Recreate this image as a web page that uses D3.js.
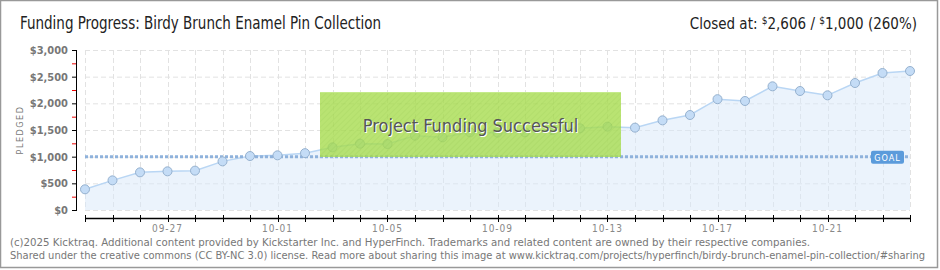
<!DOCTYPE html>
<html>
<head>
<meta charset="utf-8">
<script src="https://cdn.jsdelivr.net/npm/d3@7/dist/d3.min.js"></script>
<style>
  body { margin: 0; background: #fff; }
  svg { display: block; }
</style>
</head>
<body>
<div id="chart"></div>
<script>
// daily pledged totals, 09-24 .. 10-24
var dates = ["2025-09-24","2025-09-25","2025-09-26","2025-09-27","2025-09-28","2025-09-29","2025-09-30",
  "2025-10-01","2025-10-02","2025-10-03","2025-10-04","2025-10-05","2025-10-06","2025-10-07","2025-10-08",
  "2025-10-09","2025-10-10","2025-10-11","2025-10-12","2025-10-13","2025-10-14","2025-10-15","2025-10-16",
  "2025-10-17","2025-10-18","2025-10-19","2025-10-20","2025-10-21","2025-10-22","2025-10-23","2025-10-24"];
var pledged = [388, 556, 706, 725, 738, 912, 1012, 1025, 1066, 1175, 1244, 1237, 1394, 1363, 1456,
  1450, 1456, 1500, 1531, 1563, 1544, 1681, 1781, 2078, 2044, 2319, 2231, 2150, 2381, 2569, 2606];
var goal = 1000;
var yTicks = [0, 500, 1000, 1500, 2000, 2500, 3000];
var xLabelDates = ["2025-09-27","2025-10-01","2025-10-05","2025-10-09","2025-10-13","2025-10-17","2025-10-21"];

var titleText = "Funding Progress: Birdy Brunch Enamel Pin Collection";
var footer1 = "(c)2025 Kicktraq. Additional content provided by Kickstarter Inc. and HyperFinch. Trademarks and related content are owned by their respective companies.";
var footer2 = "Shared under the creative commons (CC BY-NC 3.0) license. Read more about sharing this image at www.kicktraq.com/projects/hyperfinch/birdy-brunch-enamel-pin-collection/#sharing";

var width = 940, height = 270;
var fontFamily = "'DejaVu Sans Condensed', 'DejaVu Sans', sans-serif";
var labelColor = "#777";

var parse = d3.timeParse("%Y-%m-%d");
var data = dates.map(function (d, i) {
  return { date: parse(d), value: pledged[i] };
});

var svg = d3.select("#chart").append("svg")
  .attr("width", width)
  .attr("height", height);

var defs = svg.append("defs");
var stripes = defs.append("pattern")
  .attr("id", "stripes")
  .attr("width", 4).attr("height", 4)
  .attr("patternUnits", "userSpaceOnUse")
  .attr("patternTransform", "rotate(45)");
stripes.append("rect").attr("width", 4).attr("height", 4).attr("fill", "#a7dc4f");
stripes.append("rect").attr("width", 1).attr("height", 4).attr("fill", "#9fd547");

// outer frame
svg.append("rect")
  .attr("x", 0.5).attr("y", 0.5)
  .attr("width", 937).attr("height", 267)
  .attr("fill", "none")
  .attr("stroke", "#999")
  .attr("stroke-width", 1.5);

var x = d3.scaleTime()
  .domain([data[0].date, data[data.length - 1].date])
  .range([85, 910]);

var y = d3.scaleLinear()
  .domain([0, 3000])
  .range([210, 50]);

// grid
var g = svg.append("g");
g.selectAll("line.hgrid")
  .data(yTicks)
  .enter().append("line")
  .attr("class", "hgrid")
  .attr("x1", 85).attr("x2", 910)
  .attr("y1", function (d) { return y(d) + 0.5; })
  .attr("y2", function (d) { return y(d) + 0.5; })
  .attr("stroke", "#e2e2e2")
  .attr("stroke-dasharray", "5,3");

g.selectAll("line.vgrid")
  .data(data)
  .enter().append("line")
  .attr("class", "vgrid")
  .attr("x1", function (d) { return Math.round(x(d.date)) + 0.5; })
  .attr("x2", function (d) { return Math.round(x(d.date)) + 0.5; })
  .attr("y1", 50).attr("y2", 210)
  .attr("stroke", "#e2e2e2")
  .attr("stroke-dasharray", "5,3");

// area + line
var area = d3.area()
  .x(function (d) { return x(d.date); })
  .y0(y(0))
  .y1(function (d) { return y(d.value); });

var line = d3.line()
  .x(function (d) { return x(d.date); })
  .y(function (d) { return y(d.value); });

g.append("path")
  .datum(data)
  .attr("d", area)
  .attr("fill", "#d8e8fa")
  .attr("fill-opacity", 0.5);

g.append("path")
  .datum(data)
  .attr("d", line)
  .attr("fill", "none")
  .attr("stroke", "#b9d6f4")
  .attr("stroke-width", 1.5);

// goal line
g.append("line")
  .attr("x1", 85).attr("x2", 910)
  .attr("y1", y(goal)).attr("y2", y(goal))
  .attr("stroke", "#8fb2dc")
  .attr("stroke-width", 3)
  .attr("stroke-dasharray", "3,2");

// points
g.selectAll("circle")
  .data(data)
  .enter().append("circle")
  .attr("cx", function (d) { return x(d.date); })
  .attr("cy", function (d) { return y(d.value); })
  .attr("r", 4.5)
  .attr("fill", "#c4dcf6")
  .attr("stroke", "#95b1cf")
  .attr("stroke-width", 1);

// goal badge
var badge = g.append("g").attr("transform", "translate(871," + (y(goal) - 6) + ")");
badge.append("rect")
  .attr("width", 33).attr("height", 13)
  .attr("rx", 2)
  .attr("fill", "#5b9bdb");
badge.append("text")
  .attr("x", 16.5).attr("y", 10)
  .attr("text-anchor", "middle")
  .attr("fill", "#fff")
  .attr("font-family", fontFamily)
  .attr("font-size", 9)
  .attr("letter-spacing", 1)
  .text("GOAL");

// y axis
var yAxis = svg.append("g");
yAxis.append("line")
  .attr("x1", 76.5).attr("x2", 76.5)
  .attr("y1", 50).attr("y2", 211)
  .attr("stroke", "#000");
yAxis.selectAll("line.major")
  .data(yTicks)
  .enter().append("line")
  .attr("class", "major")
  .attr("x1", 72).attr("x2", 77)
  .attr("y1", function (d) { return y(d) + 0.5; })
  .attr("y2", function (d) { return y(d) + 0.5; })
  .attr("stroke", "#000");
yAxis.selectAll("line.minor")
  .data(yTicks.slice(0, -1))
  .enter().append("line")
  .attr("class", "minor")
  .attr("x1", 72).attr("x2", 76)
  .attr("y1", function (d) { return y(d + 250) + 0.5; })
  .attr("y2", function (d) { return y(d + 250) + 0.5; })
  .attr("stroke", "#e00");
yAxis.selectAll("text")
  .data(yTicks)
  .enter().append("text")
  .attr("x", 68)
  .attr("y", function (d) { return y(d) + 4; })
  .attr("text-anchor", "end")
  .attr("fill", labelColor)
  .attr("font-family", fontFamily)
  .attr("font-size", 11)
  .attr("font-weight", "bold")
  .text(function (d) { return "$" + d3.format(",")(d); });

svg.append("text")
  .attr("transform", "translate(23,130) rotate(-90)")
  .attr("text-anchor", "middle")
  .attr("fill", labelColor)
  .attr("font-family", fontFamily)
  .attr("font-size", 9)
  .attr("letter-spacing", 1.5)
  .text("PLEDGED");

// x axis
var xAxis = svg.append("g");
xAxis.append("line")
  .attr("x1", 85).attr("x2", 910)
  .attr("y1", 218.5).attr("y2", 218.5)
  .attr("stroke", "#000")
  .attr("stroke-width", 1.5);
xAxis.selectAll("line.tick")
  .data(data)
  .enter().append("line")
  .attr("class", "tick")
  .attr("x1", function (d) { return Math.round(x(d.date)) + 0.5; })
  .attr("x2", function (d) { return Math.round(x(d.date)) + 0.5; })
  .attr("y1", 215).attr("y2", 222)
  .attr("stroke", "#000");
xAxis.selectAll("text")
  .data(xLabelDates.map(parse))
  .enter().append("text")
  .attr("x", function (d) { return x(d); })
  .attr("y", 232)
  .attr("text-anchor", "middle")
  .attr("fill", "#888")
  .attr("font-family", fontFamily)
  .attr("font-size", 10)
  .attr("letter-spacing", 1)
  .text(d3.timeFormat("%m-%d"));

// success banner
var banner = svg.append("g");
banner.append("rect")
  .attr("x", 320).attr("y", 92)
  .attr("width", 301).attr("height", 65)
  .attr("fill", "url(#stripes)")
  .attr("opacity", 0.8);
banner.append("line")
  .attr("x1", 320).attr("x2", 621)
  .attr("y1", 92.5).attr("y2", 92.5)
  .attr("stroke", "#c4ea8a");
banner.append("text")
  .attr("x", 471.5).attr("y", 132.5)
  .attr("text-anchor", "middle")
  .attr("fill", "#fff")
  .attr("font-family", fontFamily)
  .attr("font-size", 18)
  .text("Project Funding Successful");
banner.append("text")
  .attr("x", 470.5).attr("y", 131.5)
  .attr("text-anchor", "middle")
  .attr("fill", "#555")
  .attr("font-family", fontFamily)
  .attr("font-size", 18)
  .text("Project Funding Successful");

// header
svg.append("text")
  .attr("x", 20).attr("y", 29)
  .attr("fill", "#222")
  .attr("font-family", fontFamily)
  .attr("font-size", 17)
  .attr("textLength", 361)
  .attr("lengthAdjust", "spacingAndGlyphs")
  .text(titleText);

var closedText = svg.append("text")
  .attr("x", 917).attr("y", 29)
  .attr("text-anchor", "end")
  .attr("fill", "#222")
  .attr("font-family", fontFamily)
  .attr("font-size", 15);
closedText.append("tspan").text("Closed at:  ");
closedText.append("tspan").attr("font-size", 10).attr("dy", -5).text("$");
closedText.append("tspan").attr("dy", 5).text(d3.format(",")(pledged[pledged.length - 1]) + " /  ");
closedText.append("tspan").attr("font-size", 10).attr("dy", -5).text("$");
closedText.append("tspan").attr("dy", 5).text(d3.format(",")(goal) + " (" + Math.floor(pledged[pledged.length - 1] / goal * 100) + "%)");

// footer
svg.append("text")
  .attr("x", 10).attr("y", 246)
  .attr("fill", "#777")
  .attr("font-family", fontFamily)
  .attr("font-size", 10)
  .attr("textLength", 800)
  .attr("lengthAdjust", "spacingAndGlyphs")
  .text(footer1);
svg.append("text")
  .attr("x", 10).attr("y", 259)
  .attr("fill", "#777")
  .attr("font-family", fontFamily)
  .attr("font-size", 10)
  .attr("textLength", 915)
  .attr("lengthAdjust", "spacingAndGlyphs")
  .text(footer2);
</script>
</body>
</html>
